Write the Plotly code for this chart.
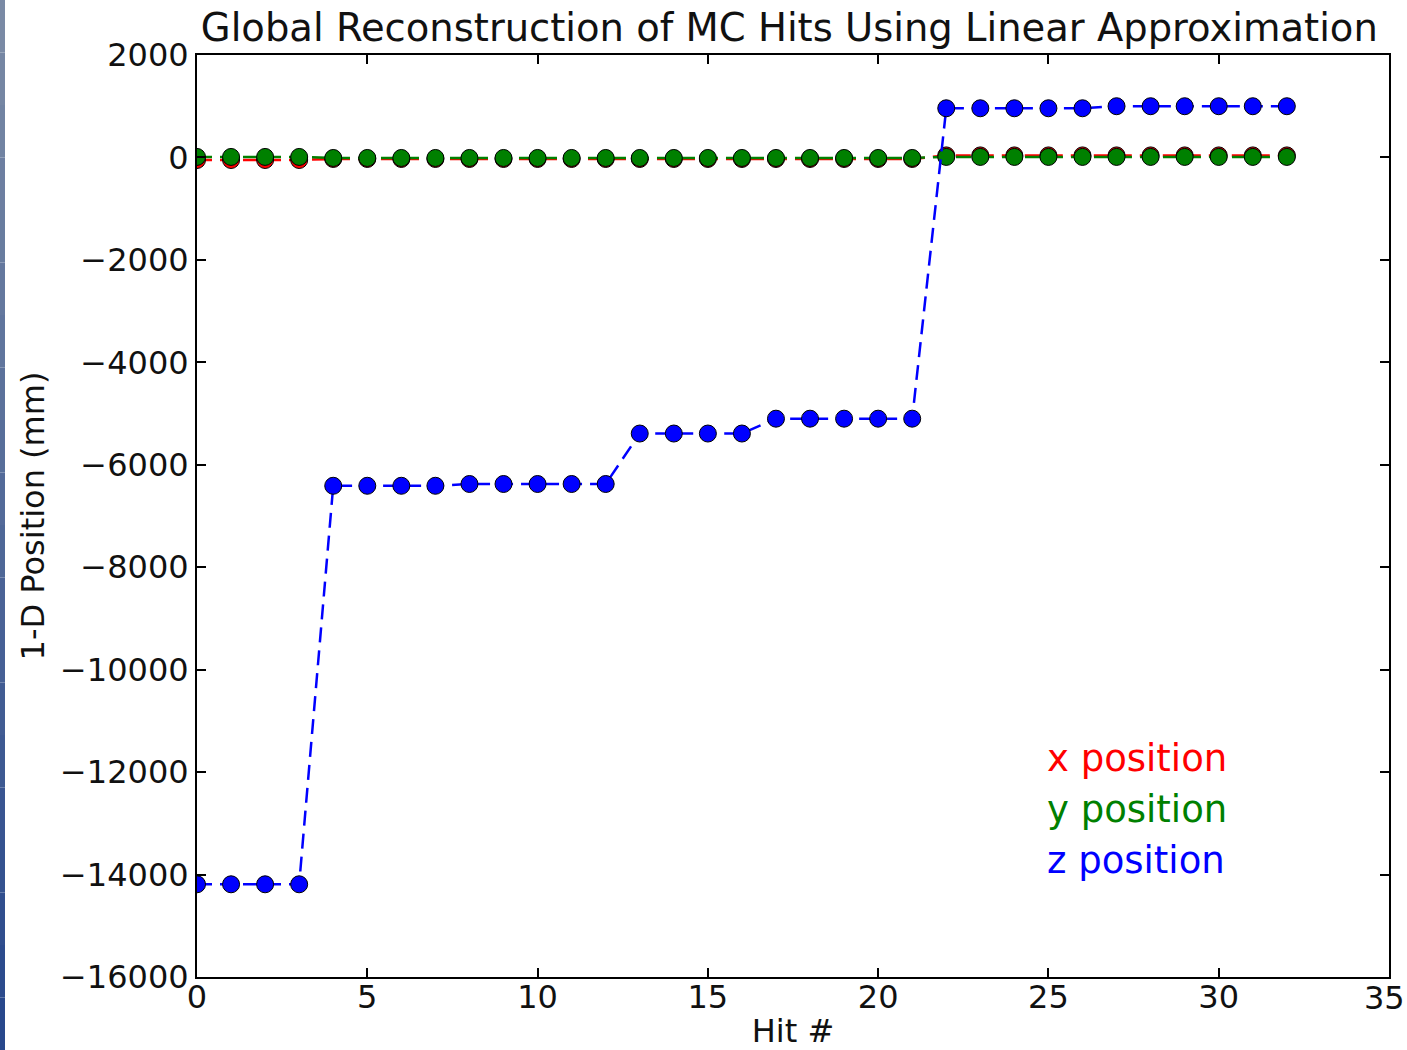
import plotly.graph_objects as go

hits = list(range(33))
x_pos = [-50, -50, -50, -50] + [-30] * 9 + [-30] * 4 + [-30] * 5 + [40] * 11
y_pos = [10, 10, 10, 10] + [-10] * 9 + [-10] * 4 + [-10] * 5 + [10] * 11
z_pos = ([-14190] * 4
         + [-6410, -6410, -6410, -6410, -6375, -6375, -6375, -6375, -6375]
         + [-5390] * 4
         + [-5100] * 5
         + [960, 960, 960, 960, 960, 1000, 1000, 1000, 1000, 1000, 1000])

x_ticks = [0, 5, 10, 15, 20, 25, 30, 35]
x_ticklabels = ["0", "5", "10", "15", "20", "25", "30", "35"]
y_ticks = [2000, 0, -2000, -4000, -6000, -8000, -10000, -12000, -14000, -16000]
y_ticklabels = ["2000", "0", "\u22122000", "\u22124000", "\u22126000", "\u22128000",
                "\u221210000", "\u221212000", "\u221214000", "\u221216000"]

series_names = ["x position", "y position", "z position"]
series_colors = ["#FF0000", "#008000", "#0000FF"]
series_values = [x_pos, y_pos, z_pos]

FONT = "DejaVu Sans"
TXT = "#111111"

fig = go.Figure()
for name, color, vals in zip(series_names, series_colors, series_values):
    fig.add_trace(go.Scatter(
        x=hits, y=vals, mode="lines+markers", name=name,
        line=dict(color=color, width=2.5, dash="15px,8px"),
        marker=dict(color=color, size=17, line=dict(color="black", width=1)),
        showlegend=False,
    ))

# legend as colored text
for i, (name, color) in enumerate(zip(series_names, series_colors)):
    fig.add_annotation(
        xref="paper", yref="paper", x=0.711, y=0.237 - i * 0.0555,
        xanchor="left", yanchor="middle", text=name, showarrow=False,
        font=dict(family=FONT, size=37, color=color),
    )

# last x tick label sits at the right edge; draw it slightly inset so it is not clipped
fig.add_annotation(
    xref="x", yref="paper", x=x_ticks[-1], y=0, xanchor="center", yanchor="middle",
    xshift=-5, yshift=-21, text=x_ticklabels[-1], showarrow=False,
    font=dict(family=FONT, size=32, color=TXT),
)

# left edge strip (slide background)
n = 20
for k in range(n):
    t = k / (n - 1)
    r = int(122 + (40 - 122) * t)
    g = int(138 + (72 - 138) * t)
    b = int(165 + (140 - 165) * t)
    fig.add_shape(type="rect", xref="paper", yref="paper",
                  x0=-197 / 1192, x1=-192 / 1192,
                  y0=1 + 55 / 922 - (k + 1) * (1050 / 922) / n,
                  y1=1 + 55 / 922 - k * (1050 / 922) / n,
                  fillcolor=f"rgb({r},{g},{b})", line=dict(width=0), layer="below")

axis_common = dict(
    showgrid=False, zeroline=False, showline=True, linecolor="black", linewidth=2,
    mirror="ticks", ticks="inside", ticklen=9, tickwidth=1.5, tickcolor="black",
    tickfont=dict(family=FONT, size=32, color=TXT),
)

fig.update_xaxes(range=[0, 35], tickvals=x_ticks,
                 ticktext=x_ticklabels[:-1] + [""],
                 ticklabelstandoff=-9,
                 title=dict(text="Hit #", font=dict(family=FONT, size=32, color=TXT), standoff=11),
                 **axis_common)
fig.update_yaxes(range=[-16000, 2000], tickvals=y_ticks, ticktext=y_ticklabels,
                 title=dict(text="1-D Position (mm)", font=dict(family=FONT, size=32, color=TXT), standoff=6),
                 **axis_common)

fig.update_layout(
    width=1407, height=1050,
    margin=dict(l=197, r=18, t=55, b=73, autoexpand=False),
    paper_bgcolor="white", plot_bgcolor="white",
    title=dict(text="Global Reconstruction of MC Hits Using Linear Approximation",
               x=0.561, xanchor="center", y=0.974, yanchor="middle",
               font=dict(family=FONT, size=38.5, color=TXT)),
)

fig.write_html("out.html", config={"displayModeBar": False},
               post_script="document.body.style.margin='0';")
